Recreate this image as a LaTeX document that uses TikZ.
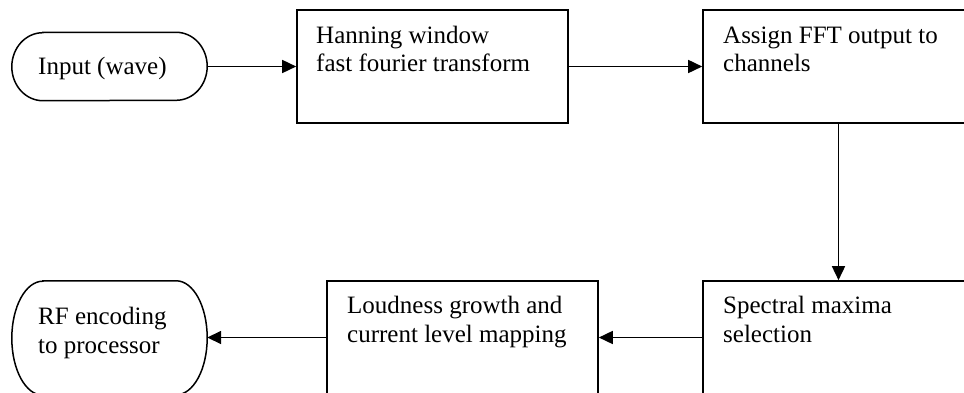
\documentclass[tikz,border=0pt]{standalone}
\usepackage{fontspec}
\setmainfont{Liberation Serif}
\usetikzlibrary{arrows.meta}
\tikzset{
  boxshape/.style={draw=black, line width=1.6pt, minimum width=271pt, minimum height=113pt, inner sep=0pt, fill=none},
  pillanchor/.style={draw=none, inner sep=0pt},
  pillline/.style={draw=black, line width=1.5pt},
  txt/.style={anchor=base west, inner sep=0pt, align=left, font=\fontsize{25}{29}\selectfont},
  arr/.style={line width=1.6pt, -{Triangle[length=14pt,width=13pt]}}
}
\newcommand\drawpill[3]{%
  \draw[pillline] ([xshift=#2]#1.north west) -- ([xshift=-#2]#1.north east)
    arc[start angle=90, end angle=-90, x radius=#2, y radius=#3]
    -- ([xshift=#2]#1.south west)
    arc[start angle=270, end angle=90, x radius=#2, y radius=#3] -- cycle;}
\begin{document}
\begin{tikzpicture}[x=1pt,y=1pt]
\useasboundingbox (0,0) rectangle (964,392);
\clip (0,0) rectangle (964,392);
\fill[white] (0,0) rectangle (964,392);
% nodes
\node[pillanchor, minimum width=195pt, minimum height=68pt] (inp) at (109.5,325.5) {};
\drawpill{inp}{31pt}{34pt}
\node[boxshape] (hann) at (432.5,325.5) {};
\node[boxshape] (assign) at (838.5,325.5) {};
\node[boxshape] (spec) at (838.5,54.5) {};
\node[boxshape] (loud) at (462.5,54.5) {};
\node[pillanchor, minimum width=195pt, minimum height=114pt] (rf) at (109.5,54) {};
\drawpill{rf}{31pt}{57pt}
% texts (anchor at baseline of the last line)
\node[txt] (inptxt) at (38,318) {Input (wave)};
\node[txt] (hanntxt) at (316,320) {Hanning window\\fast fourier transform};
\node[txt] (assigntxt) at (723,320) {Assign FFT output to\\channels};
\node[txt] (spectxt) at (723,50) {Spectral maxima\\selection};
\node[txt] (loudtxt) at (347,50) {Loudness growth and\\current level mapping};
\node[txt] (rftxt) at (38,39) {RF encoding\\to processor};
% connectors
\draw[arr] (inp.east) -- (hann.west);
\draw[arr] (hann.east) -- (assign.west);
\draw[arr] (assign.south) -- (spec.north);
\draw[arr] (spec.west) -- (loud.east);
\draw[arr] (loud.west) -- (loud.west -| rf.east);
\end{tikzpicture}
\end{document}
